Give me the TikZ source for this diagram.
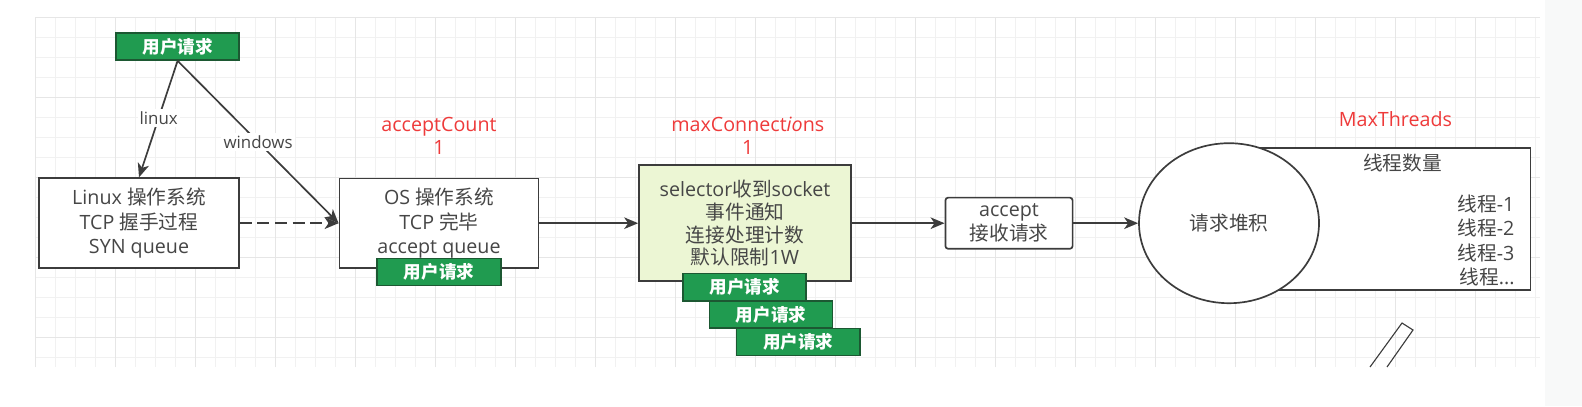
\documentclass[tikz,border=0pt]{standalone}
\usepackage{xcolor}
\usepackage{fontspec}
\setmainfont{Open Sans}
\newfontfamily\cjk{Noto Sans CJK SC}
\usepackage{tikz}
\usetikzlibrary{shapes.geometric, arrows.meta, positioning, backgrounds}
\definecolor{linegray}{RGB}{60,60,60}
\definecolor{textgray}{RGB}{70,70,70}
\definecolor{reqgreen}{RGB}{32,155,80}
\definecolor{reqborder}{RGB}{28,88,50}
\definecolor{selfill}{RGB}{236,246,212}
\definecolor{paramred}{RGB}{238,58,58}
\definecolor{gridminor}{RGB}{241,241,241}
\definecolor{gridmajor}{RGB}{230,230,230}
\definecolor{sidegray}{RGB}{248,249,249}
\tikzset{
  osbox/.style={rectangle, draw=linegray, line width=1.2pt, fill=white, text=textgray, align=center, font=\fontsize{14}{17.4}\selectfont}, % system boxes
  request/.style={rectangle, draw=reqborder, line width=1.1pt, fill=reqgreen, text=white, font=\fontsize{12.5}{14}\selectfont\cjk\bfseries, minimum width=3.08cm, minimum height=0.68cm, inner sep=0pt},
  param/.style={text=paramred, align=center, font=\fontsize{14}{16}\selectfont},
  edgelabel/.style={fill=white, text=textgray, inner sep=1.5pt, font=\fontsize{12}{14}\selectfont},
  flow/.style={draw=linegray, line width=1.2pt, -{Stealth[length=3.5mm, width=2.9mm, inset=1mm]}}
}

\begin{document}
\begin{tikzpicture}[node distance=7.5cm]
    \useasboundingbox (0,0) rectangle (39.55,-10.15);

    % Nodes
    \node [osbox, minimum width=5cm, minimum height=2.25cm] (linuxOS) at (3.475,-5.58) {Linux {\cjk 操作系统}\\TCP {\cjk 握手过程}\\SYN queue};
    \node [osbox, minimum width=4.98cm, minimum height=2.23cm, right of=linuxOS] (winOS) {OS {\cjk 操作系统}\\TCP {\cjk 完毕}\\accept queue};
    \node [osbox, fill=selfill, minimum width=5.3cm, minimum height=2.9cm, right of=winOS, xshift=0.15cm, font=\fontsize{14}{16.1}\selectfont] (selector) {selector{\cjk 收到}socket\\{\cjk 事件通知}\\{\cjk 连接处理计数}\\{\cjk 默认限制}1W};
    \node [osbox, rounded corners=2pt, minimum width=3.18cm, minimum height=1.28cm, inner sep=0pt, right of=selector, xshift=-0.9cm, font=\fontsize{14}{17}\selectfont] (accept) {accept\\{\cjk 接收请求}};
    \node [osbox, minimum width=6.88cm, minimum height=3.55cm, right of=accept, xshift=2.1cm, yshift=0.1cm] (threads) {};
    \node [osbox, ellipse, minimum width=4.5cm, minimum height=4cm, inner sep=0pt, right of=accept, xshift=-2cm] (pileUp) {\cjk 请求堆积};

    \node [request, above of=linuxOS, node distance=4.42cm, xshift=0.965cm] (req0) {用户请求};
    \node [request, minimum width=3.1cm, minimum height=0.68cm, below of=winOS, node distance=1.22cm] (req1) {用户请求};
    \node [request, below of=selector, node distance=1.6cm, xshift=-0.01cm] (reqA) {用户请求};
    \node [request, below of=reqA, node distance=0.68cm, xshift=0.66cm] (reqB) {用户请求};
    \node [request, below of=reqB, node distance=0.69cm, xshift=0.68cm] (reqC) {用户请求};

    \node [param, above of=winOS, node distance=2.18cm] (countLbl) {acceptCount\\1};
    \node [param, above of=selector, node distance=2.18cm, xshift=0.07cm] (connLbl) {maxConnect\textit{io}ns\\1};
    \node [param, above of=threads, node distance=2.5cm, xshift=0.06cm] (threadLbl) {MaxThreads};

    \node [anchor=north, text=textgray, font=\fontsize{14}{17}\selectfont\cjk, inner sep=2pt] (threadTitle) at ([xshift=0.24cm, yshift=-0.08cm]threads.north) {线程数量};
    \node [anchor=east, align=right, text=textgray, font=\fontsize{14}{17.4}\selectfont] (threadList) at ([xshift=-0.3cm, yshift=-0.53cm]threads.east) {{\cjk 线程}-1\\{\cjk 线程}-2\\{\cjk 线程}-3\\{\cjk 线程}...};

    % Edges
    \draw [flow] (req0.south) -- node [edgelabel, pos=0.49] (linuxLbl) {linux} (linuxOS.north);
    \draw [flow] (req0.south) -- node [edgelabel, pos=0.5] (winLbl) {windows} (winOS.west);
    \draw [flow, dashed, dash pattern=on 3mm off 1.4mm] (linuxOS.east) -- (winOS.west);
    \draw [flow] (winOS.east) -- (selector.west);
    \draw [flow] (selector.east) -- (accept.west);
    \draw [flow] (accept.east) -- (pileUp.west);

    % the tilted bar under the thread box
    \draw [linegray, line width=0.8pt] (34.25,-9.175) -- (35.05,-8.075) -- (35.325,-8.25) -- (34.675,-9.175);

    % Background
    \begin{scope}[on background layer]
      \fill[sidegray] (38.62,0) rectangle (39.55,-10.15);
      \begin{scope}[shift={(0.875,-0.425)}]
        \draw[gridminor, line width=0.5pt, step=0.5cm] (0,0) grid (37.625,-8.75);
        \draw[gridmajor, line width=0.6pt, step=2cm] (0,0) grid (37.625,-8.75);
      \end{scope}
    \end{scope}

\end{tikzpicture}
\end{document}
